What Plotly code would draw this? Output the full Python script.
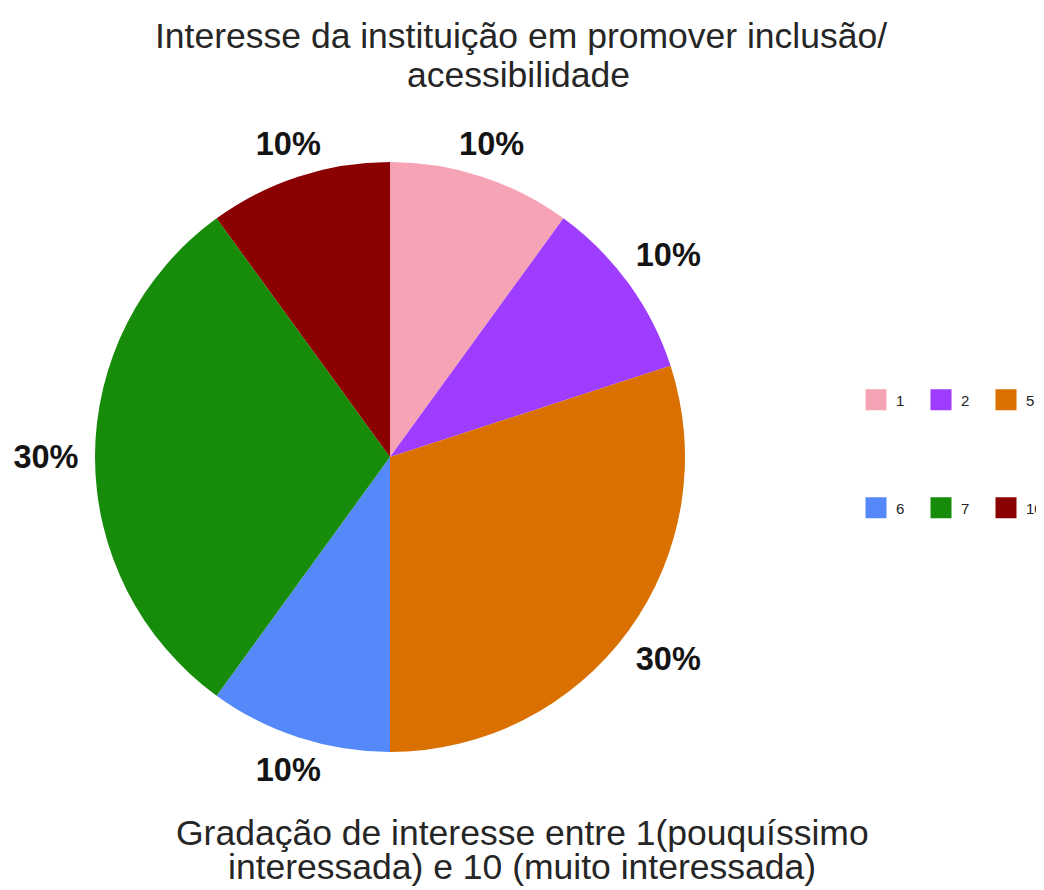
import plotly.graph_objects as go

# ---- data ----
categories = ["1", "2", "5", "6", "7", "10"]
counts = [1, 1, 3, 1, 3, 1]
colors = ["#F5A3B5", "#9E3DFF", "#D97000", "#5588F8", "#178B0A", "#8B0000"]

title_lines = ["Interesse da instituição em promover inclusão/", "acessibilidade"]
subtitle_lines = ["Gradação de interesse entre 1(pouquíssimo", "interessada) e 10 (muito interessada)"]

# page has an 8px body margin, so the figure fills the rest of the window
W, H = 1036, 882
FONT = "Liberation Sans, Arial, sans-serif"

CX, CY, R = 382, 449, 295          # pie centre / radius in figure pixels
RING = 76                          # thickness of the transparent label rings
# label rings: outer radius, and which slices put their label on that ring
label_rings = [
    (367, [True, False, False, True, False, True]),   # slices near top / bottom
    (382, [False, True, True, False, True, False]),   # slices on the sides
]


def dom_x(c, r):
    return [max(0, (c - r) / W), (c + r) / W]


def dom_y(c, r):
    return [1 - (c + r) / H, 1 - (c - r) / H]


fig = go.Figure()
# the pie itself
fig.add_trace(go.Pie(
    labels=categories, values=counts, sort=False,
    direction="clockwise", rotation=0,
    marker=dict(colors=colors, line=dict(width=0)),
    textinfo="none",
    domain=dict(x=dom_x(CX, R), y=dom_y(CY, R)),
    showlegend=False, hoverinfo="label+percent",
))
# transparent rings carrying the percentage labels outside the pie
for rout, mask in label_rings:
    fig.add_trace(go.Pie(
        labels=categories, values=counts, sort=False,
        direction="clockwise", rotation=0, hole=(rout - RING) / rout,
        marker=dict(colors=["rgba(0,0,0,0)"] * len(categories), line=dict(width=0)),
        textposition="inside", insidetextorientation="horizontal",
        texttemplate=["%{percent:.0%}" if m else "" for m in mask],
        textfont=dict(family=FONT, size=32.5, color="#141414", weight="bold"),
        domain=dict(x=dom_x(CX, rout), y=dom_y(CY, rout)),
        showlegend=False, hoverinfo="skip",
    ))

# legend entries (two rows of three)
for i, (cat, col) in enumerate(zip(categories, colors)):
    fig.add_trace(go.Scatter(
        x=[None], y=[None], mode="markers", name=cat,
        marker=dict(symbol="square", size=27, color=col, line=dict(color=col, width=5)),
        legend="legend" if i < 3 else "legend2",
        showlegend=True, hoverinfo="skip",
    ))

legend_common = dict(
    orientation="h", xanchor="left", yanchor="middle",
    entrywidth=20, entrywidthmode="pixels",
    font=dict(family=FONT, size=15, color="#222222"),
    bgcolor="rgba(0,0,0,0)", borderwidth=0, itemsizing="trace",
)

annotations = []
for txt, xc, ym in zip(title_lines, [513, 510], [28, 67]):
    annotations.append(dict(text=txt, x=xc / W, y=1 - ym / H, xref="paper", yref="paper",
                            xanchor="center", yanchor="middle", showarrow=False,
                            font=dict(family=FONT, size=35.5, color="#262626")))
for txt, xc, ym in zip(subtitle_lines, [514, 514], [825, 859]):
    annotations.append(dict(text=txt, x=xc / W, y=1 - ym / H, xref="paper", yref="paper",
                            xanchor="center", yanchor="middle", showarrow=False,
                            font=dict(family=FONT, size=35.5, color="#262626")))

fig.update_layout(
    width=W, height=H,
    margin=dict(l=0, r=0, t=0, b=0, autoexpand=False),
    paper_bgcolor="white", plot_bgcolor="white",
    xaxis=dict(visible=False), yaxis=dict(visible=False),
    legend=dict(x=848 / W, y=1 - 392 / H, **legend_common),
    legend2=dict(x=848 / W, y=1 - 500 / H, **legend_common),
    annotations=annotations,
    font=dict(family=FONT),
)

fig.write_html("out.html")
